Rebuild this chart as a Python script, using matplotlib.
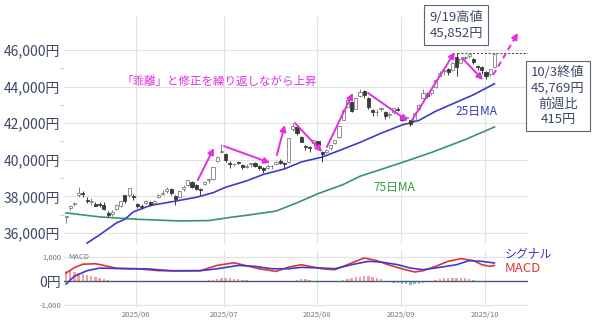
import matplotlib
matplotlib.use("Agg")
import matplotlib.pyplot as plt
import pandas as pd

plt.rcParams['font.family'] = ['Noto Sans CJK JP', 'DejaVu Sans']

# ---- trading calendar (TSE, 2025-05-08 .. 2025-10-03) ----
holidays = ['2025-07-21', '2025-08-11', '2025-09-15', '2025-09-23']
days = [d for d in pd.bdate_range('2025-05-08', '2025-10-03')
        if d.strftime('%Y-%m-%d') not in holidays]
pos = {d.strftime('%Y-%m-%d'): i for i, d in enumerate(days)}

# ---- Nikkei 225 daily OHLC ----
opens = [36850, 37350, 37600, 38100, 38200, 37800, 37700, 37600, 37600, 37550, 37100, 37050, 37300, 37450, 38050, 38050, 38000,
         37600, 37500, 37650, 37700, 37650, 37950, 38150, 38300, 38400, 38000, 37950, 38400, 38600, 38800, 38650, 38400, 38700, 38900, 38950, 39950, 40450,
         40300, 39850, 39750, 39900, 39700, 39600, 39750, 39800, 39650, 39550, 39550, 39650, 39750, 39950, 39850, 39900, 41700, 41800, 41250, 40750, 40700, 40900,
         41000, 40400, 40400, 40650, 40900, 41250, 42200, 42900, 43150, 42800, 43500, 43750, 43400, 42700, 42600, 42800, 42600, 42450, 42600, 42750,
         42400, 42300, 42150, 42150, 42800, 43400, 43600, 43650, 43950, 44600, 44850, 44950, 44900, 45600, 45300, 45550, 45650, 45500, 45100, 45050,
         44800, 44700, 45050]
highs = [36950, 37550, 37700, 38494, 38300, 37950, 37900, 37700, 37700, 37700, 37200, 37250, 37600, 37750, 38100, 38450, 38150,
         37650, 37600, 37800, 37750, 37800, 38150, 38350, 38500, 38450, 38050, 38350, 38600, 38900, 38850, 38700, 38450, 38850, 39000, 39600, 40200, 40850,
         40350, 39950, 39850, 39950, 39750, 39750, 39850, 39900, 39700, 39600, 39750, 39700, 39950, 40050, 39900, 41200, 42000, 41900, 41300, 40800, 40750, 41100,
         41050, 40500, 40600, 40800, 41100, 41850, 42750, 43300, 43200, 43450, 43850, 43800, 43450, 42800, 42750, 42900, 42650, 42600, 42850, 42900,
         42450, 42400, 42200, 42600, 43050, 43850, 43700, 43850, 44400, 44850, 44950, 45000, 45350, 45852, 45550, 45650, 45800, 45550, 45150, 45100,
         44850, 44950, 45800]
lows = [36550, 37250, 37450, 37950, 37950, 37650, 37550, 37450, 37400, 37250, 36900, 36950, 37250, 37400, 37650, 37950, 37800,
        37350, 37300, 37600, 37450, 37550, 37900, 38050, 38200, 38100, 37550, 37900, 38300, 38550, 38450, 38350, 38100, 38650, 38750, 38900, 39900, 40350,
        39900, 39550, 39650, 39750, 39500, 39550, 39600, 39600, 39450, 39300, 39500, 39500, 39700, 39750, 39550, 39850, 41600, 41350, 40950, 40550, 40450, 40700,
        40650, 39900, 40350, 40550, 40850, 41200, 42150, 42850, 42600, 42750, 43450, 43400, 42800, 42400, 42400, 42650, 42250, 42300, 42500, 42650,
        42100, 42150, 41850, 42100, 42700, 43300, 43350, 43550, 43900, 44550, 44650, 44650, 44850, 44550, 45250, 45450, 45550, 45250, 44900, 44700,
        44400, 44600, 45000]
closes = [36928, 37503, 37644, 38183, 38128, 37755, 37753, 37498, 37529, 37299, 36985, 37160, 37531, 37724, 37722, 38432, 37965,
          37470, 37446, 37747, 37554, 37741, 38088, 38211, 38421, 38173, 37834, 38311, 38536, 38885, 38488, 38403, 38354, 38790, 38942, 39584, 40150, 40487,
          39986, 39762, 39785, 39810, 39587, 39688, 39821, 39646, 39570, 39459, 39678, 39663, 39901, 39819, 39774, 41171, 41826, 41456, 40998, 40674, 40654, 41069,
          40799, 40290, 40549, 40794, 41059, 41820, 42718, 43274, 42649, 43378, 43714, 43546, 42888, 42610, 42633, 42807, 42394, 42520, 42829, 42718,
          42188, 42310, 41938, 42580, 43018, 43643, 43459, 43837, 44372, 44768, 44902, 44790, 45303, 45045, 45493, 45630, 45754, 45354, 45043, 44932,
          44550, 44936, 45769]

# ---- moving averages ----
ma25_dates = ['2025-05-15', '2025-05-20', '2025-05-26', '2025-05-28', '2025-05-30', '2025-06-05', '2025-06-12', '2025-06-20',
              '2025-06-26', '2025-07-01', '2025-07-08', '2025-07-14', '2025-07-22', '2025-07-28', '2025-08-04', '2025-08-08',
              '2025-08-18', '2025-08-25', '2025-09-01', '2025-09-05', '2025-09-11', '2025-09-18', '2025-09-26', '2025-10-03']
ma25_vals = [35450, 35900, 36550, 36750, 37150, 37500, 37700, 37950, 38200, 38500, 38850, 39200, 39500, 39880, 40150, 40500,
             40950, 41450, 41900, 42150, 42650, 43050, 43550, 44150]
ma75_dates = ['2025-05-08', '2025-05-20', '2025-06-02', '2025-06-16', '2025-06-25', '2025-07-02', '2025-07-09', '2025-07-17',
              '2025-07-25', '2025-08-01', '2025-08-12', '2025-08-18', '2025-09-01', '2025-09-10', '2025-09-24', '2025-10-03']
ma75_vals = [37100, 36880, 36750, 36660, 36680, 36850, 37000, 37200, 37650, 38150, 38650, 39100, 39850, 40400, 41100, 41790]

# ---- MACD panel ----
macd_dates = ['2025-05-08', '2025-05-12', '2025-05-14', '2025-05-19', '2025-05-21', '2025-05-26', '2025-06-02', '2025-06-09',
              '2025-06-16', '2025-06-23', '2025-06-27', '2025-07-03', '2025-07-11', '2025-07-17', '2025-07-23', '2025-07-28',
              '2025-08-04', '2025-08-07', '2025-08-13', '2025-08-19', '2025-08-22', '2025-08-27', '2025-09-01', '2025-09-04',
              '2025-09-08', '2025-09-11', '2025-09-17', '2025-09-22', '2025-09-26', '2025-09-30', '2025-10-02', '2025-10-03']
macd_vals = [330, 560, 700, 720, 650, 530, 510, 430, 420, 430, 650, 760, 510, 400, 580, 680,
             510, 470, 680, 960, 850, 660, 510, 375, 430, 610, 820, 930, 850, 680, 610, 650]
signal_dates = ['2025-05-08', '2025-05-12', '2025-05-15', '2025-05-20', '2025-05-29', '2025-06-04', '2025-06-12', '2025-06-23',
                '2025-06-27', '2025-07-04', '2025-07-10', '2025-07-16', '2025-07-23', '2025-07-28', '2025-08-04', '2025-08-07',
                '2025-08-14', '2025-08-20', '2025-08-25', '2025-08-29', '2025-09-03', '2025-09-08', '2025-09-12', '2025-09-19',
                '2025-09-25', '2025-09-30', '2025-10-03']
signal_vals = [-125, 200, 430, 540, 510, 510, 430, 430, 510, 650, 610, 510, 510, 570, 540, 510,
               680, 820, 790, 680, 540, 470, 570, 680, 850, 820, 750]
hist_vals = [420, 400, 370, 340, 300, 260, 220, 180, 130, 80, 40, 10,
             -10, -15, -10, 0, -20,
             -30, -35, -30, -30, -25, -15, -10, -5, -10, -15, -10, -10,
             0, 5, 10, 10, 20,
             40, 60, 90, 110, 120, 110, 100, 80, 60, 40, 20, 5,
             -10, -30, -40, -50, -50, -55, -50, -30,
             20, 60, 80, 70, 40, 10,
             -20, -40, -50, -50, -40, -20,
             30, 70, 110, 150, 180, 200, 190, 160, 120, 70,
             -20, -50, -70, -90, -110, -130, -150, -140, -110, -70, -30,
             20, 60, 90, 110, 130, 140, 140, 130, 110, 80, 50, 20, 0,
             -40, -50, -30]

price_ticks = [36000, 38000, 40000, 42000, 44000, 46000]
month_labels = ['2025/06', '2025/07', '2025/08', '2025/09', '2025/10']

# ---- figure layout ----
W, H = 600, 322
fig = plt.figure(figsize=(W / 100, H / 100), dpi=100)


def fbox(l, t, r, b):
    return [l / W, 1 - b / H, (r - l) / W, (b - t) / H]


ax = fig.add_axes(fbox(64, 17, 528, 244))
axm = fig.add_axes(fbox(64, 250, 528, 307))

GRID = '#e2e2e2'
LABEL = '#3d4766'
MAG = '#e030e0'
n = len(days)
xs = list(range(n))

month_pos = []
for lab in month_labels:
    y, m = lab.split('/')
    first = next(i for i, d in enumerate(days) if d.year == int(y) and d.month == int(m))
    month_pos.append(first - 0.3)

for a in (ax, axm):
    for s in a.spines.values():
        s.set_visible(False)
    a.set_xlim(-0.48, 110)
    for mp in month_pos:
        a.axvline(mp, color=GRID, lw=0.8, zorder=0)

# ---- price panel ----
ax.set_ylim(35400, 47800)
for t in price_ticks:
    ax.axhline(t, color=GRID, lw=0.8, zorder=0)
ax.set_yticks(price_ticks)
ax.set_yticklabels([f'{t:,}円' for t in price_ticks], color=LABEL, fontsize=10)
ax.set_yticks([37000, 39000, 41000, 43000, 45000], minor=True)
ax.tick_params(axis='y', which='major', length=0, pad=3)
ax.tick_params(axis='y', which='minor', length=3, color='#cfcfcf', width=0.8)
ax.set_xticks([])

# candles
for i in xs:
    o, h, l, c = opens[i], highs[i], lows[i], closes[i]
    up = c >= o
    ax.vlines(i, l, h, color='#808080' if up else '#3a3a3a', lw=0.7, zorder=3)
    body = max(abs(c - o), 30)
    ax.bar(i, body, bottom=min(o, c), width=0.72,
           facecolor='white' if up else '#3a3a3a',
           edgecolor='#808080' if up else '#3a3a3a', lw=0.6, zorder=4)

ax.plot([pos[d] for d in ma75_dates], ma75_vals, color='#3b9466', lw=1.2, zorder=2)
ax.plot([pos[d] for d in ma25_dates], ma25_vals, color='#3c3ccc', lw=1.2, zorder=2)

# record high reference line
ax.hlines(45852, pos['2025-09-19'], 110, colors='#555555', linestyles=(0, (2, 1.5)), lw=0.8, zorder=5)

# swing arrows
swings = [((31.4, 38900), (35.2, 40640)),
          ((37.6, 40750), (48.6, 39830)),
          ((50.2, 40260), (52.1, 41900)),
          ((54.5, 42010), (61.0, 40430)),
          ((62.1, 40700), (68.3, 43650)),
          ((71.9, 43650), (81.4, 42120)),
          ((82.4, 42170), (92.6, 45890)),
          ((94.3, 45560), (99.3, 44360))]
for (x0, y0), (x1, y1) in swings:
    ax.annotate('', xy=(x1, y1), xytext=(x0, y0),
                arrowprops=dict(arrowstyle='-|>', color=MAG, lw=1.4,
                                mutation_scale=9, shrinkA=0, shrinkB=0),
                zorder=6)
# projected move (dashed)
(x0, y0), (x1, y1) = (101.7, 44630), (107.6, 46930)
ax.plot([x0, x1 - 0.6], [y0, y1 - 230], color=MAG, lw=1.4, ls=(0, (3, 2)), zorder=6)
ax.annotate('', xy=(x1, y1), xytext=(x1 - 0.9, y1 - 350),
            arrowprops=dict(arrowstyle='-|>', color=MAG, lw=1.4,
                            mutation_scale=9, shrinkA=0, shrinkB=0), zorder=6)

# ---- MACD panel ----
axm.set_ylim(-1083, 1292)
for t in (1000, -1000):
    axm.axhline(t, color=GRID, lw=0.8, zorder=0)
axm.bar(xs, hist_vals, width=0.55,
        color=['#f4a0a0' if v >= 0 else '#74c7b8' for v in hist_vals], zorder=1)
axm.axhline(0, color='#4b5a7a', lw=1.0, zorder=2)
axm.plot([pos[d] for d in macd_dates], macd_vals, color='#e03434', lw=1.2, zorder=3)
axm.plot([pos[d] for d in signal_dates], signal_vals, color='#3b3bd0', lw=1.2, zorder=4)
axm.set_yticks([1000, 0, -1000])
axm.set_yticklabels(['1,000', '0円', '-1,000'])
ylabs = axm.get_yticklabels()
for lab in (ylabs[0], ylabs[2]):
    lab.set_fontsize(5.5)
    lab.set_color('#777777')
ylabs[1].set_fontsize(10)
ylabs[1].set_color(LABEL)
axm.tick_params(axis='y', length=0, pad=2)
axm.set_xticks(month_pos)
axm.set_xticklabels(month_labels, fontsize=5.5, color='#777777')
axm.tick_params(axis='x', length=0, pad=3)
axm.text(0.5, 1180, 'MACD', fontsize=5.5, color='#777777', va='top', ha='left')

# ---- annotation text ----
def ftext(px, py, s, **kw):
    return fig.text(px / W, 1 - py / H, s, **kw)


ftext(219, 81, '「乖離」と修正を繰り返しながら上昇', color=MAG, fontsize=8.3,
      ha='center', va='center')
box = dict(boxstyle='square,pad=0.38', facecolor='white', edgecolor='#5c6678', lw=0.8)
ftext(456, 25, '9/19高値\n45,852円', color=LABEL, fontsize=9.5, ha='center', va='center',
      linespacing=1.3, bbox=box)
ftext(558, 96, '10/3終値\n45,769円\n前週比\n415円', color=LABEL, fontsize=9.5, ha='center',
      va='center', linespacing=1.25, bbox=box)
ftext(476, 112, '25日MA', color='#3838b0', fontsize=8.5, ha='center', va='center')
ftext(394, 187, '75日MA', color='#3a9a3a', fontsize=8.5, ha='center', va='center')
ftext(505, 255, 'シグナル', color='#3535c0', fontsize=8.6, ha='left', va='center')
ftext(505, 269, 'MACD', color='#e03434', fontsize=9.5, ha='left', va='center')

fig.savefig('out.png', dpi=100, facecolor='white')
